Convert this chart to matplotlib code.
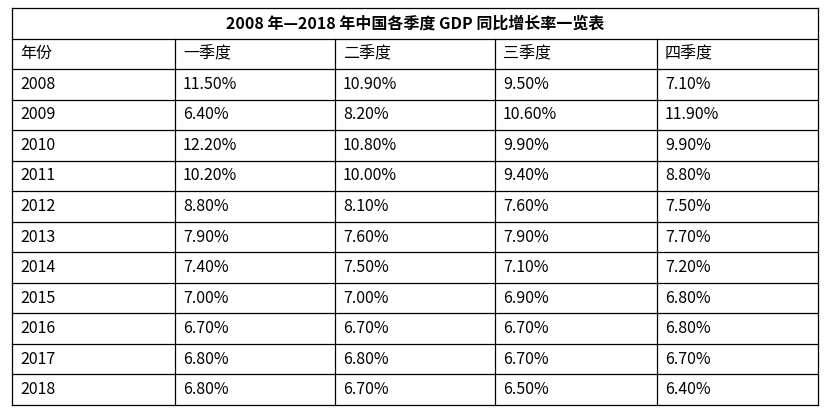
import matplotlib.pyplot as plt

plt.rcParams['font.family'] = ['Noto Sans CJK SC', 'DejaVu Sans']

title = '2008 年—2018 年中国各季度 GDP 同比增长率一览表'
headers = ['年份', '一季度', '二季度', '三季度', '四季度']
years = ['2008', '2009', '2010', '2011', '2012', '2013', '2014', '2015', '2016', '2017', '2018']
q1 = ['11.50%', '6.40%', '12.20%', '10.20%', '8.80%', '7.90%', '7.40%', '7.00%', '6.70%', '6.80%', '6.80%']
q2 = ['10.90%', '8.20%', '10.80%', '10.00%', '8.10%', '7.60%', '7.50%', '7.00%', '6.70%', '6.80%', '6.70%']
q3 = ['9.50%', '10.60%', '9.90%', '9.40%', '7.60%', '7.90%', '7.10%', '6.90%', '6.70%', '6.70%', '6.50%']
q4 = ['7.10%', '11.90%', '9.90%', '8.80%', '7.50%', '7.70%', '7.20%', '6.80%', '6.80%', '6.70%', '6.40%']

fig = plt.figure(figsize=(8.29, 4.16), dpi=100)
ax = fig.add_axes([0, 0, 1, 1])
ax.set_xlim(0, 829)
ax.set_ylim(416, 0)
ax.axis('off')

col_x = [12, 175, 335, 495, 657, 818]
top, bottom = 8, 405
n_rows = 13
rh = (bottom - top) / n_rows
row_y = [top + i * rh for i in range(n_rows + 1)]

# grid lines
for y in row_y:
    ax.plot([col_x[0], col_x[-1]], [y, y], color='black', lw=0.9)
for i, x in enumerate(col_x):
    y0 = top if i in (0, len(col_x) - 1) else row_y[1]
    ax.plot([x, x], [y0, bottom], color='black', lw=0.9)

ax.text((col_x[0] + col_x[-1]) / 2, (row_y[0] + row_y[1]) / 2, title,
        ha='center', va='center', fontsize=11.5, fontweight='bold')

rows = [headers] + [list(r) for r in zip(years, q1, q2, q3, q4)]
for r, vals in enumerate(rows):
    yc = (row_y[r + 1] + row_y[r + 2]) / 2
    for c, v in enumerate(vals):
        ax.text(col_x[c] + 8, yc, v, ha='left', va='center', fontsize=11.5)

fig.savefig('out.png', dpi=100, facecolor='white')
